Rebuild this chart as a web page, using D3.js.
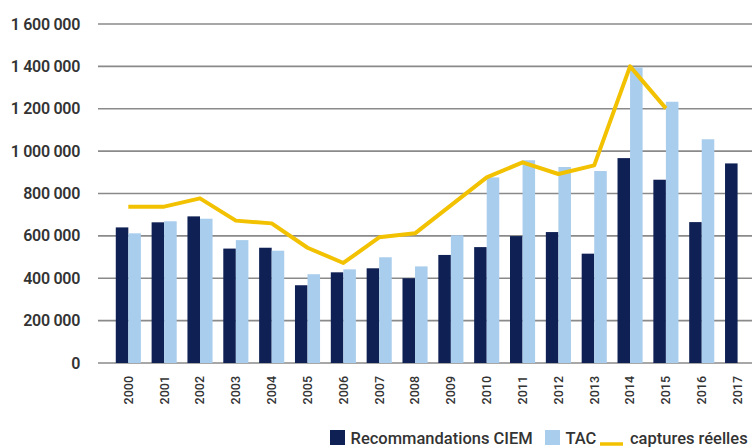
<!DOCTYPE html>
<html>
<head>
<meta charset="utf-8">
<script src="https://cdn.jsdelivr.net/npm/d3@7"></script>
<style>
body { margin: 0; background: #fff; }
text { font-family: Roboto, "Liberation Sans", sans-serif; }
</style>
</head>
<body>
<div id="div_svg"></div>
<script>
var years = ["2000", "2001", "2002", "2003", "2004", "2005", "2006", "2007", "2008",
	"2009", "2010", "2011", "2012", "2013", "2014", "2015", "2016", "2017"];
var ciem = [640000, 664000, 692000, 540000, 544000, 367000, 428000, 447000, 400000,
	510000, 547000, 599000, 618000, 516000, 967000, 865000, 665000, 942000];
var tac = [612000, 669000, 681000, 580000, 530000, 419000, 442000, 499000, 456000,
	603000, 876000, 957000, 925000, 906000, 1395000, 1233000, 1056000, null];
var captures = [738000, 738000, 777000, 672000, 659000, 544000, 472000, 593000, 612000,
	744000, 876000, 947000, 892000, 933000, 1400000, 1202000, null, null];
var yTicks = [0, 200000, 400000, 600000, 800000, 1000000, 1200000, 1400000, 1600000];
var legendItems = ["Recommandations CIEM", "TAC", "captures réelles"];

var svg = d3.select("#div_svg").append("svg").attr("id", "svg")
		.attr("width", 752).attr("height", 448);

var x = d3.scaleBand().domain(years).range([110.4, 755.5])
		.paddingInner(0.3).paddingOuter(0.15);
var y = d3.scaleLinear().domain([0, 1600000]).range([363, 24]);

function fmt(v) {
	return d3.format(",")(v).replace(/,/g, " ");
}

// grid + y labels
svg.append("g").selectAll("line").data(yTicks).enter().append("line")
		.attr("x1", 98).attr("x2", 752)
		.attr("y1", function(d) { return y(d); })
		.attr("y2", function(d) { return y(d); })
		.style("stroke", "#8a8a8a").style("stroke-width", 1.6);

svg.append("g").selectAll("text").data(yTicks).enter().append("text")
		.attr("x", 80).attr("y", function(d) { return y(d); })
		.attr("dy", "0.35em").attr("text-anchor", "end")
		.style("font-size", "16px").style("font-weight", 600)
		.style("fill", "#333").style("letter-spacing", "-0.3px")
		.text(function(d) { return fmt(d); });

var bw = x.bandwidth() / 2;

svg.append("g").selectAll("rect").data(years).enter().append("rect")
		.attr("x", function(d) { return x(d); })
		.attr("y", function(d, i) { return y(ciem[i]); })
		.attr("width", bw)
		.attr("height", function(d, i) { return y(0) - y(ciem[i]); })
		.style("fill", "#0f2054");

svg.append("g").selectAll("rect").data(years.filter(function(d, i) { return tac[i] != null; }))
		.enter().append("rect")
		.attr("x", function(d) { return x(d) + bw; })
		.attr("y", function(d) { return y(tac[years.indexOf(d)]); })
		.attr("width", bw)
		.attr("height", function(d) { return y(0) - y(tac[years.indexOf(d)]); })
		.style("fill", "#a9cdec");

var line = d3.line()
		.defined(function(d) { return d != null; })
		.x(function(d, i) { return x(years[i]) + x.bandwidth() / 2; })
		.y(function(d) { return y(d); });

svg.append("path").datum(captures).attr("d", line)
		.style("fill", "none").style("stroke", "#f2c100")
		.style("stroke-width", 4).style("stroke-linejoin", "round");

// x labels
svg.append("g").selectAll("text").data(years).enter().append("text")
		.attr("transform", function(d) {
			return "translate(" + (x(d) + x.bandwidth() / 2) + ",376) rotate(-90)";
		})
		.attr("dy", "0.35em").attr("text-anchor", "end")
		.style("font-size", "12.5px").style("font-weight", 500).style("fill", "#333")
		.text(function(d) { return d; });

// legend
var lg = svg.append("g").style("font-size", "16.5px").style("font-weight", 500).style("fill", "#333");
lg.append("rect").attr("x", 330).attr("y", 430).attr("width", 15).attr("height", 15)
		.style("fill", "#0f2054");
lg.append("text").attr("x", 350.5).attr("y", 444).text(legendItems[0]);
lg.append("rect").attr("x", 545).attr("y", 430).attr("width", 15).attr("height", 15)
		.style("fill", "#a9cdec");
lg.append("text").attr("x", 565.5).attr("y", 444).text(legendItems[1]);
lg.append("line").attr("x1", 600).attr("x2", 623).attr("y1", 444).attr("y2", 444)
		.style("stroke", "#f2c100").style("stroke-width", 3.5);
lg.append("text").attr("x", 630).attr("y", 444).text(legendItems[2]);
</script>
</body>
</html>
